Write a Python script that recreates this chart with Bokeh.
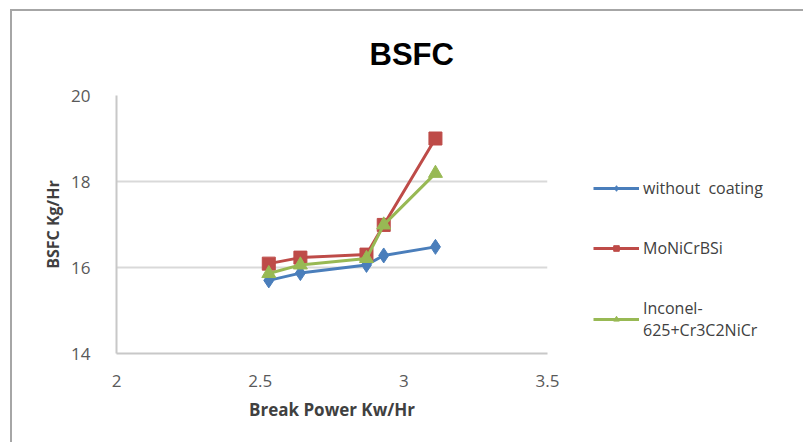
from bokeh.plotting import figure
from bokeh.models import Legend, LegendItem, Range1d, FixedTicker
from bokeh.embed import file_html
from bokeh.resources import INLINE

# data
power = [2.53, 2.64, 2.87, 2.93, 3.11]
without_coating = [15.70, 15.87, 16.06, 16.28, 16.48]
monicrbsi = [16.09, 16.23, 16.30, 16.99, 19.00]
inconel = [15.86, 16.06, 16.21, 16.99, 18.19]
series_names = ["without  coating", "MoNiCrBSi", "Inconel-\n625+Cr3C2NiCr"]
x_ticks = [2, 2.5, 3, 3.5]
y_ticks = [14, 16, 18, 20]

p = figure(frame_width=431, frame_height=258, output_backend="svg", toolbar_location=None,
           x_range=Range1d(2, 3.5), y_range=Range1d(14, 20),
           min_border_left=104, min_border_right=256, min_border_top=82, min_border_bottom=91)
p.margin = (9, 0, 0, 10)
p.styles = {"border-left": "2px solid #a6a6a6", "border-top": "2px solid #a6a6a6", "box-sizing": "border-box"}
p.outline_line_color = None
p.background_fill_color = "white"
p.border_fill_color = "white"

p.title.text = "BSFC"
p.title.text_font = "Liberation Sans"
p.title.text_font_size = "31px"
p.title.text_font_style = "bold"
p.title.text_color = "black"
p.title.align = "left"
p.title.offset = 253
p.title.standoff = 47

p.xaxis.ticker = FixedTicker(ticks=x_ticks)
p.yaxis.ticker = FixedTicker(ticks=y_ticks)
for ax in (p.xaxis, p.yaxis):
    ax.axis_line_color = "#c8c8c8"
    ax.axis_line_width = 2
    ax.major_tick_line_color = None
    ax.minor_tick_line_color = None
    ax.major_label_text_font = "Open Sans"
    ax.major_label_text_font_size = "17px"
    ax.major_label_text_color = "#595959"
    ax.axis_label_text_font = "Open Sans"
    ax.axis_label_text_font_style = "bold"
    ax.axis_label_text_color = "#404040"
p.xaxis.major_label_standoff = 15
p.yaxis.major_label_standoff = 20
p.xaxis.axis_label = "Break Power Kw/Hr"
p.xaxis.axis_label_text_font_size = "17px"
p.xaxis.axis_label_standoff = 8
p.yaxis.axis_label = "BSFC Kg/Hr"
p.yaxis.axis_label_text_font_size = "16px"
p.yaxis.axis_label_standoff = 4

p.xgrid.grid_line_color = None
p.ygrid.grid_line_color = "#d9d9d9"
p.ygrid.grid_line_width = 2

blue, red, green = "#4a7ebb", "#be4b48", "#98b954"
l1 = p.line(power, without_coating, line_color=blue, line_width=3)
m1 = p.scatter(power, without_coating, marker="diamond", size=15, fill_color=blue, line_color=blue)
l2 = p.line(power, monicrbsi, line_color=red, line_width=3)
m2 = p.scatter(power, monicrbsi, marker="square", size=13, fill_color=red, line_color=red)
l3 = p.line(power, inconel, line_color=green, line_width=3)
m3 = p.scatter(power, inconel, marker="triangle", size=14, fill_color=green, line_color=green)

legend = Legend(items=[
    LegendItem(label=series_names[0], renderers=[l1, m1]),
    LegendItem(label=series_names[1], renderers=[l2, m2]),
    LegendItem(label=series_names[2], renderers=[l3, m3]),
], location=(46, 12))
legend.border_line_color = None
legend.background_fill_alpha = 0
legend.padding = 0
legend.margin = 0
legend.spacing = 38
legend.glyph_width = 46
legend.glyph_height = 14
legend.label_text_font = "Open Sans"
legend.label_text_font_size = "16px"
legend.label_text_color = "#404040"
legend.label_standoff = 4
p.add_layout(legend, "right")

open("out.html", "w").write(file_html(p, INLINE))
